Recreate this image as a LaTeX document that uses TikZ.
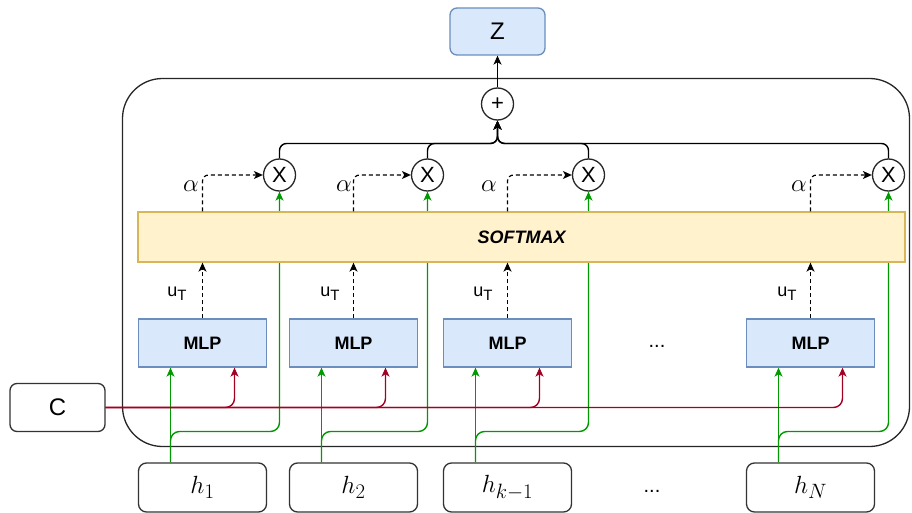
\documentclass[tikz,border=0pt]{standalone}
\usepackage{fontspec}
\setmainfont{Liberation Sans}
\usetikzlibrary{arrows.meta,calc}
\definecolor{bluefill}{HTML}{DAE8FC}
\definecolor{blueline}{HTML}{6C8EBF}
\definecolor{yelfill}{HTML}{FFF2CC}
\definecolor{yelline}{HTML}{D6B656}
\definecolor{grn}{HTML}{009900}
\definecolor{redl}{HTML}{A20025}
\newcommand{\fs}[1]{\fontsize{#1}{#1}\selectfont}
\tikzset{
  tip/.style={-{Stealth[length=9pt,width=8pt,inset=2.5pt]}},
  conn/.style={tip, line width=1.4pt, black},
  dconn/.style={tip, line width=1.2pt, black, dash pattern=on 4pt off 3pt, rounded corners=6pt},
  gconn/.style={tip, line width=1.4pt, grn, rounded corners=9pt},
  rconn/.style={tip, line width=1.4pt, redl, rounded corners=9pt},
  mlpbox/.style={rectangle, draw=blueline, fill=bluefill, line width=1.3pt, minimum width=128pt, minimum height=48pt, font=\bfseries\fs{18}},
  hbox/.style={rectangle, draw=black!80, fill=white, line width=1.3pt, rounded corners=8pt, minimum width=128pt, minimum height=49pt, font=\fs{30}},
  opnode/.style={circle, draw=black!85, fill=white, line width=1.3pt, minimum size=32pt, inner sep=0pt, font=\fs{22}},
  utlab/.style={font=\fs{18}},
  allab/.style={font=\fs{26}},
}
\begin{document}
\begin{tikzpicture}[x=1pt,y=-1pt]
\useasboundingbox (0,0) rectangle (912,513);
% container
\draw[line width=1.3pt, black!85, rounded corners=40pt] (122.5,78.5) rectangle (909.5,446.5);
% nodes
\node[rectangle, draw=blueline, fill=bluefill, line width=1.3pt, rounded corners=7pt, minimum width=95pt, minimum height=47pt, font=\fs{24}] (Z) at (497.5,31.5) {Z};
\node[rectangle, draw=black!80, fill=white, line width=1.3pt, rounded corners=7pt, minimum width=95pt, minimum height=48pt, font=\fs{24}] (C) at (57.5,407.5) {C};
\node[opnode] (plus) at (497.5,104) {+};
\node[opnode] (x1) at (279.5,175) {X};
\node[opnode] (x2) at (427.5,175) {X};
\node[opnode] (x3) at (588.5,175) {X};
\node[opnode] (x4) at (888.5,175) {X};
\node[mlpbox] (m1) at (202.5,343) {MLP};
\node[mlpbox] (m2) at (353.5,343) {MLP};
\node[mlpbox] (m3) at (507.5,343) {MLP};
\node[mlpbox] (m4) at (810.5,343) {MLP};
\node[hbox] (h1) at (202.5,487.5) {$h_1$};
\node[hbox] (h2) at (353.5,487.5) {$h_2$};
\node[hbox] (h3) at (507.5,487.5) {$h_{k-1}$};
\node[hbox] (h4) at (810.5,487.5) {$h_N$};
\node[font=\fs{20}] (dots1) at (657,346) {...};
\node[font=\fs{20}] (dots2) at (652,491) {...};
\coordinate (gb) at (0,431.5);
\coordinate (bus) at (0,143.5);
% green connectors (behind softmax)
\foreach \i in {1,2,3,4}{
  \draw[gconn] ([xshift=-32pt]h\i.north) |- (x\i.south |- gb) -- (x\i.south);
  \draw[gconn] ([xshift=-32pt]h\i.north) -- ([xshift=-32pt]m\i.south);
}
% softmax
\node[rectangle, draw=yelline, fill=yelfill, line width=1.3pt, minimum width=767pt, minimum height=50pt, font=\bfseries\itshape\fs{18}] (sm) at (521.5,237) {SOFTMAX};
% red connectors
\foreach \i in {1,2,3,4}{
  \draw[rconn] (C.east) -| ([xshift=32pt]m\i.south);
}
% u_T and alpha arrows, products to sum
\foreach \i in {1,2,3,4}{
  \draw[dconn] (m\i.north) -- (m\i.north |- sm.south);
  \draw[dconn] (m\i.north |- sm.north) |- (x\i.west);
  \draw[conn, rounded corners=7pt] (x\i.north) |- (plus.south |- bus) -- (plus.south);
}
\draw[conn] (plus.north) -- (Z.south);
% labels
\node[utlab] (u1) at (177,294) {u\raisebox{-4pt}{\fs{15}T}};
\node[utlab] (u2) at (330,294) {u\raisebox{-4pt}{\fs{15}T}};
\node[utlab] (u3) at (483,294) {u\raisebox{-4pt}{\fs{15}T}};
\node[utlab] (u4) at (787,294) {u\raisebox{-4pt}{\fs{15}T}};
\node[allab] (a1) at (191,186) {$\alpha$};
\node[allab] (a2) at (344,186) {$\alpha$};
\node[allab] (a3) at (489,186) {$\alpha$};
\node[allab] (a4) at (799,186) {$\alpha$};
\end{tikzpicture}
\end{document}
